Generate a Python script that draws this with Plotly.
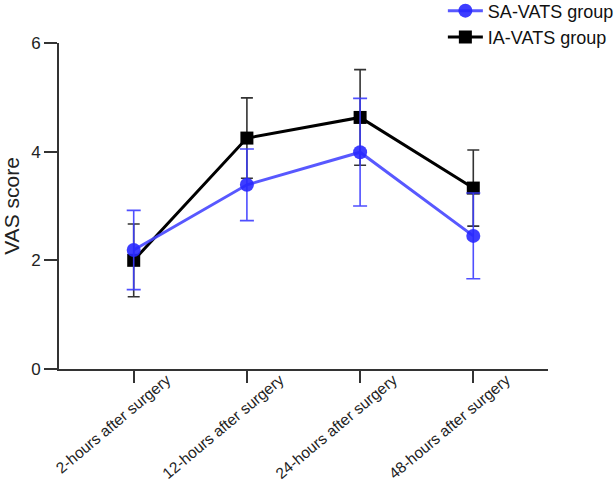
import plotly.graph_objects as go

categories = ["2-hours after surgery", "12-hours after surgery",
              "24-hours after surgery", "48-hours after surgery"]
sa_mean = [2.19, 3.39, 3.99, 2.45]
sa_sd = [0.73, 0.66, 0.99, 0.79]
ia_mean = [2.00, 4.25, 4.63, 3.33]
ia_sd = [0.67, 0.74, 0.88, 0.70]
y_ticks = [0, 2, 4, 6]

FONT = "Arial, Liberation Sans, sans-serif"
xs = list(range(len(categories)))

fig = go.Figure()
fig.add_trace(go.Scatter(
    x=xs, y=ia_mean, name="IA-VATS group", mode="lines+markers",
    legendgroup="ia",
    line=dict(color="black", width=3),
    marker=dict(symbol="square", size=13, color="black"),
    error_y=dict(type="data", array=ia_sd, visible=True,
                 color="#333333", thickness=1.6, width=6),
))
fig.add_trace(go.Scatter(
    x=xs, y=sa_mean, name="SA-VATS group", mode="lines+markers",
    legendgroup="sa",
    line=dict(color="rgba(70,70,255,0.9)", width=3),
    marker=dict(symbol="circle", size=14, color="rgba(40,40,255,0.9)"),
    error_y=dict(type="data", array=sa_sd, visible=True,
                 color="rgba(60,60,255,0.9)", thickness=1.6, width=7),
))

fig.update_layout(
    width=614, height=487,
    margin=dict(l=59, r=66, t=43, b=118, autoexpand=False),
    paper_bgcolor="white", plot_bgcolor="white",
    font=dict(family=FONT, color="#222222", size=16),
    legend=dict(x=0.785, y=1.155, xanchor="left", yanchor="top",
                traceorder="reversed", tracegroupgap=20, itemwidth=35,
                font=dict(size=18, color="#111111"),
                bgcolor="rgba(0,0,0,0)"),
    xaxis=dict(
        range=[-0.66, 3.66], tickmode="array", tickvals=xs,
        ticktext=categories, tickangle=-40,
        ticklabeloverflow="allow", ticklabelshift=33, ticklabelstandoff=-18,
        showgrid=False, zeroline=False, showline=True,
        linecolor="#333333", linewidth=2,
        ticks="outside", ticklen=12, tickwidth=2, tickcolor="#333333",
        tickfont=dict(size=15.5),
    ),
    yaxis=dict(
        range=[0, 6], tickmode="array", tickvals=y_ticks,
        showgrid=False, zeroline=False, showline=True,
        linecolor="#333333", linewidth=2,
        ticks="outside", ticklen=13, tickwidth=2, tickcolor="#333333",
        tickfont=dict(size=17),
        title=dict(text="VAS score", font=dict(size=21), standoff=8),
    ),
)

fig.write_html("out.html")
